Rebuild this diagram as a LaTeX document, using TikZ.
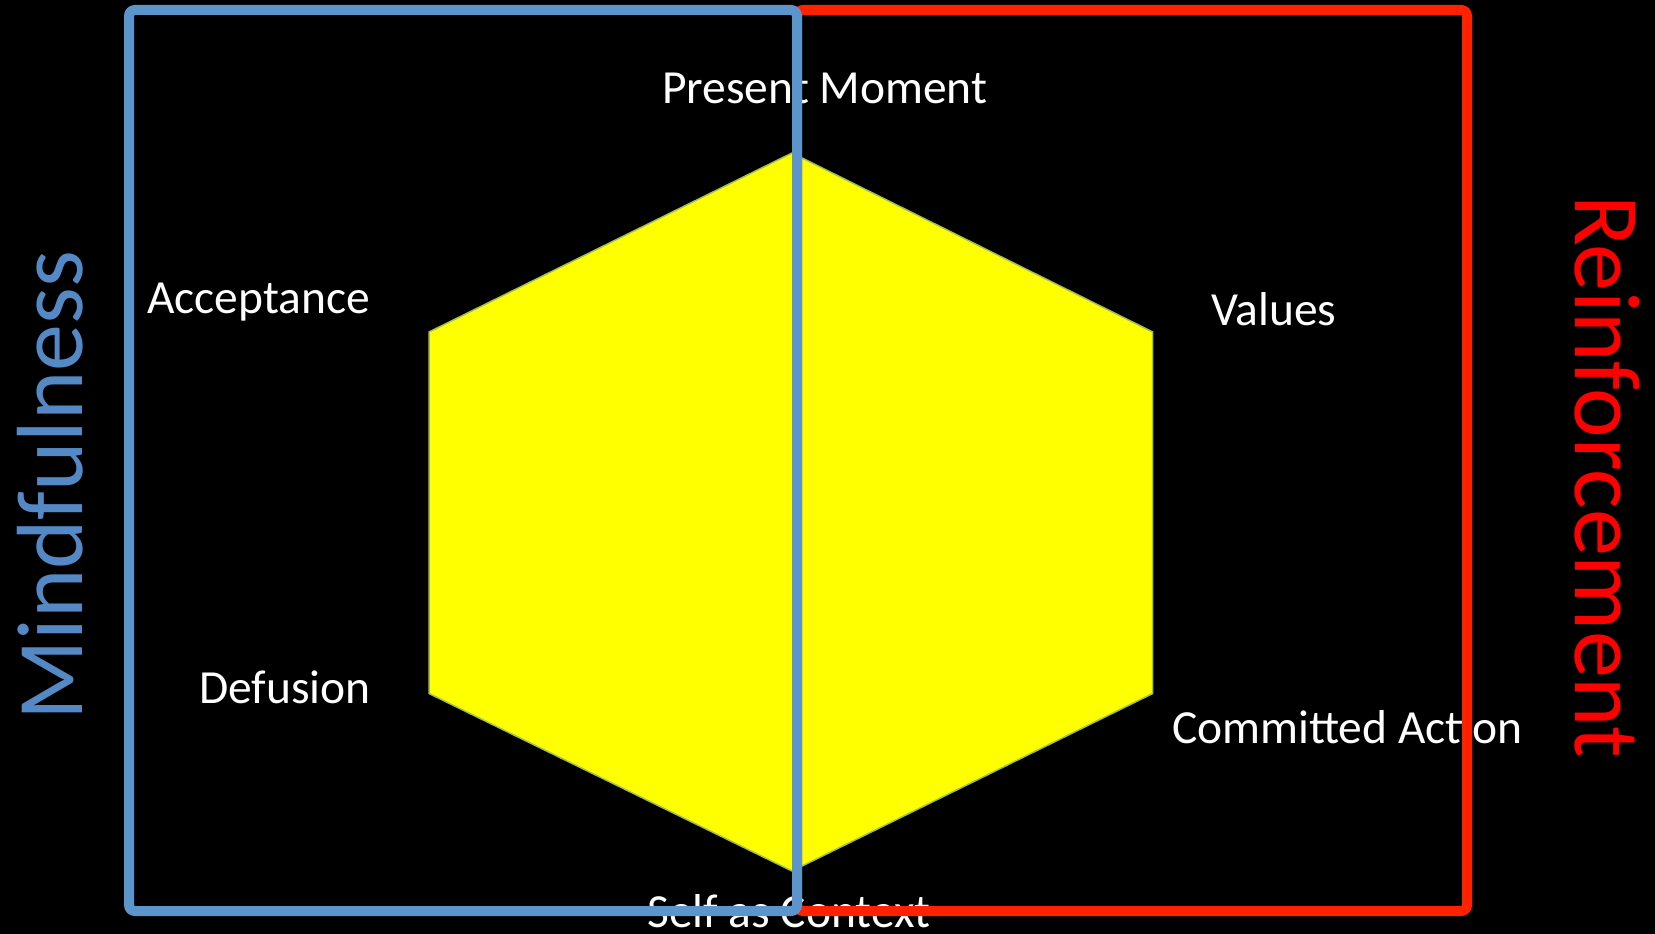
\documentclass[tikz,border=0pt]{standalone}
\usepackage{fontspec}
\setmainfont{Carlito}
\definecolor{mblue}{RGB}{92,149,204}
\definecolor{mtext}{RGB}{84,137,198}
\definecolor{rred}{RGB}{255,34,0}
\definecolor{rtext}{RGB}{255,0,0}
\definecolor{hexfill}{RGB}{255,255,0}
\definecolor{hexedge}{RGB}{160,190,90}
\begin{document}
\begin{tikzpicture}[x=1pt,y=-1pt,
  lbl/.style={text=white,font=\fontsize{47.5}{56}\selectfont,inner sep=0pt,anchor=base west},
  side/.style={font=\fontsize{94}{110}\selectfont,inner sep=0pt,anchor=base west},
  frame/.style={line width=10pt,rounded corners=6pt}]
\fill[black] (0,0) rectangle (1655,934);
\useasboundingbox (0,0) rectangle (1655,934);
\fill[hexfill,draw=hexedge,line width=1.5pt] (792,153) -- (1152.7,332) -- (1152.7,693.5) -- (792,871) -- (429,693.5) -- (429,332) -- cycle;
\node[lbl] (pm) at (662,103) {Present Moment};
\node[lbl] (acc) at (147,313) {Acceptance};
\node[lbl] (val) at (1211,325) {Values};
\node[lbl] (def) at (199,703) {Defusion};
\node[lbl] (ca) at (1172,743) {Committed Action};
\node[lbl] (sac) at (647,927) {Self as Context};
\node[side,text=mtext,rotate=90] (mind) at (82,721) {Mindfulness};
\node[side,text=rtext,rotate=-90] (reinf) at (1575,195) {Reinforcement};
\draw[rred,frame] (797,10) rectangle (1467,911);
\draw[mblue,frame] (129,10) rectangle (797,911);
\end{tikzpicture}
\end{document}
